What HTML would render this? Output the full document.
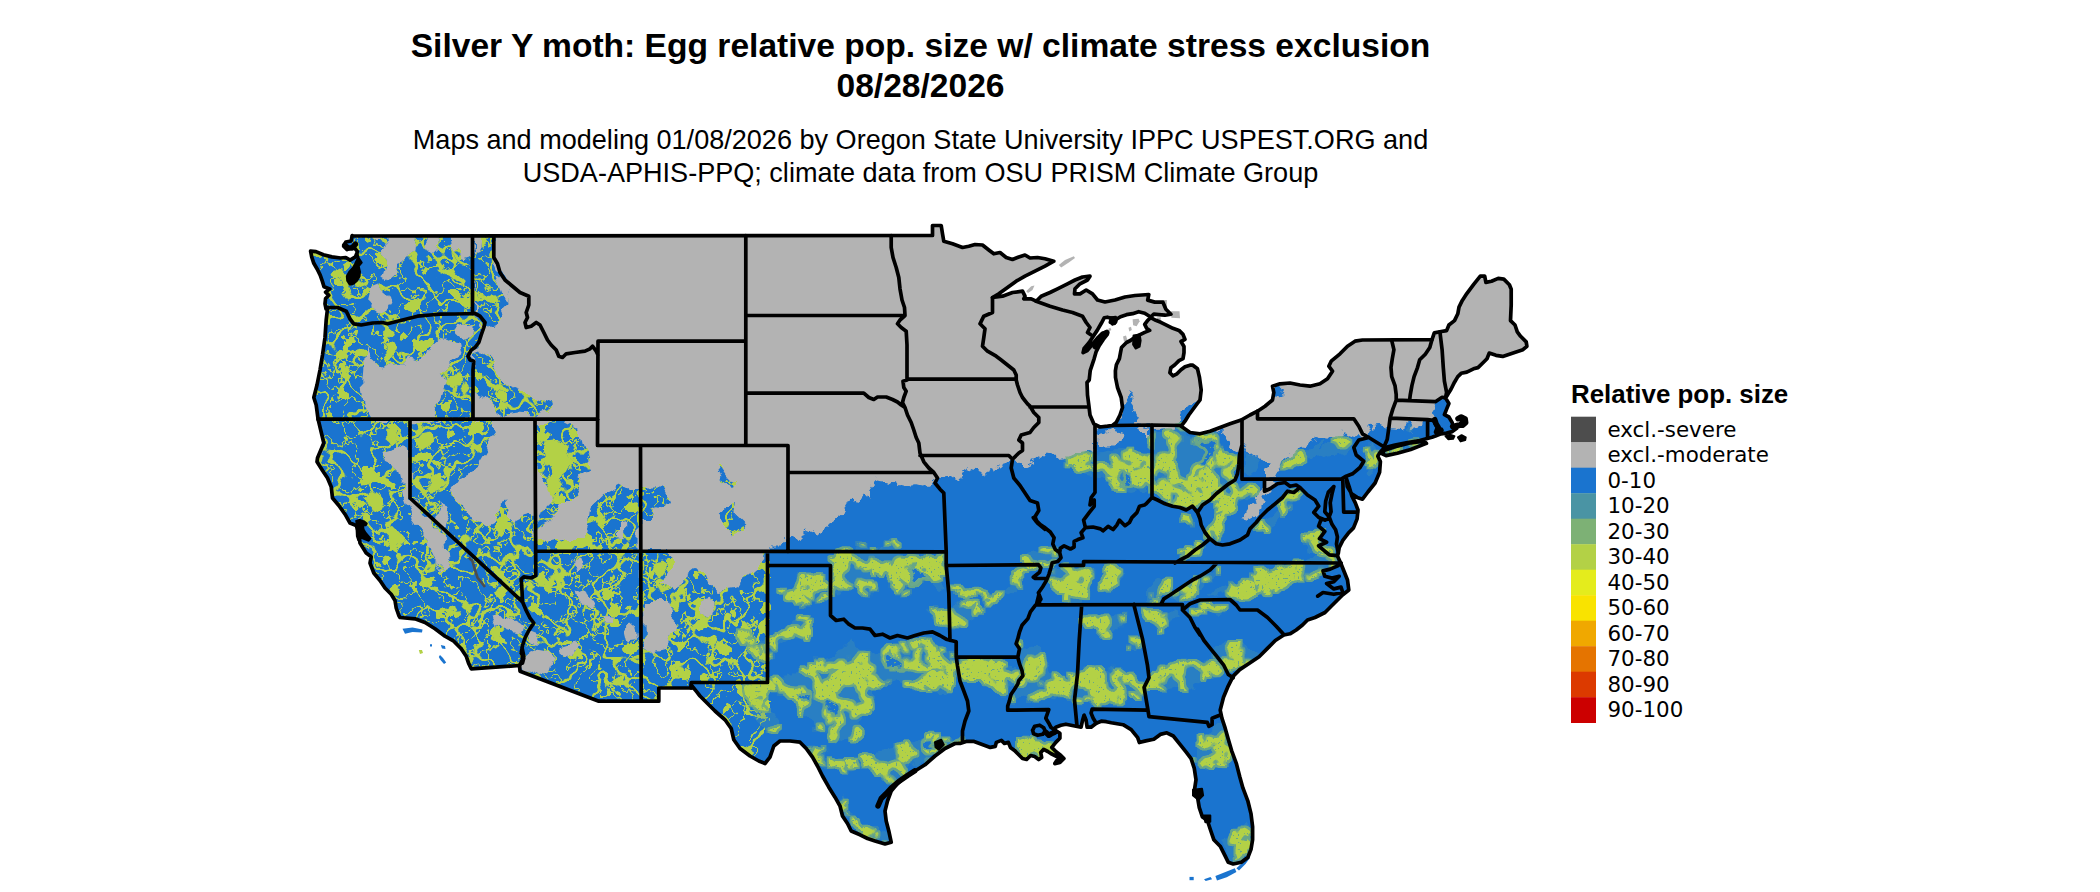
<!DOCTYPE html>
<html><head><meta charset="utf-8"><title>Silver Y moth</title>
<style>
html,body{margin:0;padding:0;background:#fff}
body{width:2100px;height:892px;overflow:hidden;position:relative;font-family:"Liberation Sans",sans-serif}
.t{position:absolute;left:0;width:1841px;text-align:center;white-space:nowrap;color:#000}
.t1{font-weight:bold;font-size:33.6px;line-height:40px}
.t2{font-size:27.07px;line-height:33px}
svg{position:absolute;left:0;top:0}
.ll{font-family:"DejaVu Sans",sans-serif;font-size:21.4px;fill:#000}
.lt{font-family:"Liberation Sans",sans-serif;font-weight:bold;font-size:25.9px;fill:#000}
</style></head><body>
<div class="t t1" style="top:26px">Silver Y moth: Egg relative pop. size w/ climate stress exclusion<br>08/28/2026</div>
<div class="t t2" style="top:123px">Maps and modeling 01/08/2026 by Oregon State University IPPC USPEST.ORG and<br>USDA-APHIS-PPQ; climate data from OSU PRISM Climate Group</div>
<svg width="2100" height="892" viewBox="0 0 2100 892">
<defs><clipPath id="us"><path d="M352 236 L932.5 235.5 L932.5 225.5 L941.2 225.5 L942.5 233.8 L943.8 241.2 L952.5 243.8 L962.5 247.5 L968.8 246.2 L975 244.5 L982.5 245 L988.8 250 L993.8 253.8 L1000 252.5 L1006.2 257.5 L1012.5 259.5 L1018.8 257 L1025 255 L1030 258 L1037.5 257.5 L1045 258.8 L1053.8 261.2 L1045 266.2 L1035 271.2 L1025 276.2 L1016.2 281.2 L1007.5 287.5 L998.8 293.8 L992.5 297.5 L1002.5 296.2 L1012.5 292.5 L1022.5 291.2 L1025 296.2 L1023.8 298.8 L1031.2 298.8 L1036.2 301.2 L1041.2 296.2 L1050 292.5 L1057.5 288.8 L1067.5 283.8 L1075 280 L1082.5 277 L1090 276.2 L1087.5 280 L1080 283.8 L1075 288.8 L1074.5 293.8 L1080 293.8 L1086.2 290 L1092.5 293.8 L1097.5 300 L1105 302 L1115 300 L1125 297 L1135 295.5 L1148.8 294.5 L1147.7 300.1 L1154.8 302.1 L1162.8 302.1 L1165.9 309.2 L1170.9 314.2 L1164.9 315.2 L1158.8 314.7 L1153.8 314.2 L1150.7 317 L1144.7 313.2 L1138.6 311.7 L1132.6 313.7 L1126.5 314.7 L1120.5 316.7 L1116.4 319.3 L1114.4 323.3 L1110.4 322.3 L1111.4 318.3 L1107.3 317.2 L1104.3 317.7 L1101.3 323.3 L1097.2 330.4 L1093.2 336.4 L1089.2 342.5 L1084.1 348.5 L1083.1 352.6 L1087.2 350.5 L1092.2 344.5 L1097.2 338.4 L1102.3 333.4 L1106.3 332.4 L1107.3 334.4 L1103.3 339.4 L1099.3 345.5 L1096.2 351.6 L1094.2 358.6 L1092.2 364.7 L1090.2 370.7 L1089.2 380 L1087 382.5 L1087.5 395 L1088.8 405 L1090 415 L1093.8 423.8 L1100 427 L1107.5 426.2 L1112.5 425.5 L1116.2 422.5 L1120 415 L1122.5 407.5 L1121.2 397.5 L1117.5 387.5 L1115.5 377.5 L1115.4 370.7 L1116.4 364.7 L1119.4 358.6 L1120.5 352.6 L1121.5 347.5 L1126.5 342.5 L1130.5 340.5 L1134.6 337.4 L1140.6 334.4 L1144.7 332.4 L1149.7 330.4 L1146.7 328.3 L1144.7 324.3 L1147.7 320.3 L1150.7 317.7 L1155.8 320.3 L1160.8 322.3 L1166.9 325.3 L1172.9 328.3 L1179 330.4 L1183 334.4 L1185 339.4 L1181 341.5 L1184 346.5 L1184 352.6 L1183 358.6 L1179 360.6 L1174.9 364.7 L1170.9 367.7 L1169.9 372.7 L1172.9 375.8 L1177 373.8 L1181 369.7 L1185 366.7 L1190 365.2 L1192.5 365 L1197.5 368.8 L1199.5 377.5 L1201.2 390 L1200 400 L1196.2 405 L1192.5 410 L1188.8 415 L1185 421.2 L1181.2 426.2 L1190 432.5 L1200 433.8 L1210 431.2 L1220 427.5 L1230 423.8 L1241.2 420 L1250 415 L1257.5 411.2 L1265 406.2 L1272.5 400 L1273.8 392.5 L1272.5 386.2 L1280 383.8 L1290 383 L1300 385 L1310 386.2 L1320 383.8 L1327.5 378.8 L1332.5 371.2 L1328.8 366.2 L1331.2 361.2 L1340 353.8 L1347.5 346.2 L1355 341.2 L1362.5 340 L1432 339.6 L1434.3 332.9 L1439.9 331.8 L1446.6 330.6 L1448.9 325 L1454.5 320.6 L1457.8 313.8 L1459 307.1 L1462.3 300.4 L1466.8 293.6 L1473.5 284.7 L1480.3 276.1 L1484.7 276.1 L1485.9 282.4 L1491.5 281.3 L1498.2 278.4 L1503.8 279.1 L1509.4 284.7 L1511.2 289.2 L1511.2 304.9 L1510.5 320.6 L1515 325 L1517.3 331.8 L1520.6 336.3 L1526.2 341.9 L1526.9 346.3 L1522.9 349.7 L1516.1 351.9 L1509.4 354.2 L1502.7 356.4 L1496 355.3 L1489.2 353.1 L1487 358.7 L1482.5 363.2 L1478 367.6 L1473.5 368.8 L1466.8 372.1 L1461.2 373.3 L1457.8 376.6 L1454.5 382.2 L1451.1 389 L1447.7 394.6 L1445.5 397.9 L1448.9 403.5 L1446.6 409.1 L1444.4 414.7 L1448.9 417 L1452.2 422.6 L1453.3 427.1 L1459 426.4 L1463.4 424.8 L1464.6 420.3 L1462.3 417 L1459.6 418.1 L1461.9 421 L1460.1 424.2 L1456.7 428.2 L1452.2 431.6 L1446.6 433.1 L1441 433.8 L1435.4 436 L1432 437.2 L1419.7 440.5 L1406.3 442.8 L1395 445 L1386.1 447.3 L1382.7 449.5 L1380 452.5 L1377.8 456.1 L1380.4 461.5 L1379.6 472.3 L1375.1 483 L1367.9 492 L1362.5 499.2 L1357.1 497.4 L1351.7 493.8 L1347.3 486.6 L1346.4 478.6 L1349.1 486.6 L1351.7 495.6 L1355.3 502.8 L1358 510 L1357.1 518.9 L1353.5 527.9 L1348.2 533.3 L1342.8 540.4 L1339.2 547.6 L1338.3 553 L1337.4 555.7 L1341 563.8 L1347.5 580 L1348.8 590 L1342.5 595 L1337.5 600 L1331.2 606.2 L1325 612.5 L1315 617.5 L1307.5 620 L1302.5 625 L1296.2 630 L1290 633.8 L1283.8 635 L1275.3 640.5 L1267.2 648.6 L1259.1 656.7 L1249.4 663.2 L1239.7 669.6 L1233.2 676.1 L1228.3 685.8 L1223.5 697.2 L1220.2 710.1 L1221.9 718.2 L1225.1 727.9 L1228.3 739.3 L1231.6 750.6 L1236.4 763.6 L1239.7 776.5 L1242.9 787.9 L1247.8 800.8 L1251 813.8 L1252.6 826.7 L1252.6 839.7 L1251 849.4 L1247.8 857.5 L1241.3 862.3 L1233.2 864 L1228.3 862.3 L1225.1 855.9 L1220.2 846.2 L1213.8 839.7 L1210.5 830 L1207.3 820.2 L1202.4 817 L1199.2 807.3 L1197.6 797.6 L1194.3 791.1 L1196 779.8 L1194.3 768.4 L1191.1 758.7 L1186.2 752.2 L1179.8 744.1 L1173.3 736 L1166.8 732.8 L1160.3 734.4 L1153.8 739.3 L1145.7 740.9 L1139.3 742.5 L1137.7 737.7 L1131.2 729.6 L1123.1 724.7 L1111.3 722.7 L1106.3 721.7 L1101.2 721.2 L1096.2 723.2 L1091.1 727.2 L1087.1 727.2 L1086.1 720.2 L1084.1 715.1 L1082.6 720.2 L1081.1 727.2 L1076 726.2 L1071 725.2 L1065.9 724.2 L1060.9 725.2 L1055.8 727.2 L1053.8 729.3 L1056.8 731.3 L1059.9 733.3 L1059.9 738.3 L1055.8 742.4 L1051.8 747.4 L1055.8 751.5 L1060.9 755.5 L1063.9 758.5 L1059.9 762.5 L1054.8 763.6 L1056.8 760.5 L1060.9 759.5 L1056.8 756.5 L1050.8 753.5 L1047.8 751.5 L1043.7 749.4 L1040.7 752.5 L1041.7 757.5 L1038.7 759.5 L1034.7 756.5 L1030.6 755.5 L1026.6 759.5 L1022.5 758.5 L1018.5 754.5 L1014.5 750.4 L1010.4 747.4 L1008.4 742.4 L1004.4 743.4 L1001.4 740.4 L996.3 742.4 L995.3 746.4 L990.3 747.4 L982.2 744.4 L974.1 741.4 L966.1 741.4 L960 743.4 L955 743.5 L945 748.5 L935 756 L925 764.8 L915 771 L905 777.2 L897.5 783.5 L891.2 791 L887.5 801 L885 811 L886.2 821 L888.8 831 L891.2 842.2 L885 844 L875 841 L867.5 838.5 L860 834.8 L851.2 831 L847.5 823.5 L842.5 816 L840 806 L835 797.2 L828.8 787.2 L822.5 776 L817.5 766 L812.5 757.2 L806.2 748.5 L800 742.2 L790 741 L780 741 L773.8 746 L770 757.2 L765 763.5 L758.8 761 L750 756 L740 748.5 L733.8 739.8 L731.2 728.5 L725 719.8 L715 711 L707.5 703.5 L700 696 L696.2 691.2 L691.2 685 L691.2 688 L658.8 688 L658.8 701.2 L641.2 701.2 L598.8 701.2 L520 671.2 L519.5 665.5 L471.2 668.8 L468.8 663.8 L466.2 656.2 L461.2 648.8 L453.8 641.2 L445 636.2 L435 628.8 L425 622.5 L415 618.8 L400 617.5 L398.8 615.5 L396.2 608 L395 600.5 L391.2 594.2 L385 588 L380 580.5 L373.8 573 L370 563 L371.2 556.8 L366.2 553 L360 543 L358.8 533 L356.2 525.5 L350 523 L345 514.2 L338.8 505.5 L332.5 498 L331.2 486.8 L327.5 478 L322.5 470.5 L317 461.8 L317.5 458 L323.8 443 L318 418.8 L316.2 405 L313.8 397.5 L317 385 L320 370 L322.5 355 L325 337.5 L326.2 320 L327.5 308.8 L326.1 309.1 L325 303.8 L325.6 298.5 L328.8 295.3 L325.6 292.1 L329.8 288.9 L324 286.8 L322.4 281.4 L320.2 275.1 L317 268.7 L313.8 263.3 L311.7 256.9 L310.6 251.1 L316 251.6 L323.4 254.8 L331.9 256.9 L340.5 258 L345.8 257.5 L350.1 260.1 L355.4 256.9 L357.5 251.6 L353.2 246.3 L346.9 249.5 L343.7 246.3 L345.8 242 L351.1 241 L352.2 235.6 Z M1383.8 450.6 L1397.3 446.1 L1410.7 442.8 L1424.2 441.2 L1426.4 443.4 L1410.7 449.5 L1397.3 453.3 L1386.1 455.6 L1382.7 454 Z"/></clipPath>

<filter id="fleckW" filterUnits="userSpaceOnUse" x="280" y="200" width="580" height="580" color-interpolation-filters="sRGB">
  <feTurbulence type="fractalNoise" baseFrequency="0.07" numOctaves="2" seed="11" result="dn"/>
  <feDisplacementMap in="SourceGraphic" in2="dn" scale="14" xChannelSelector="R" yChannelSelector="G" result="sg"/>
  <feColorMatrix in="sg" type="matrix" values="0 0 0 0 0  0 0 0 0 0  0 0 0 0 0  -4 0 4 0 -1" result="bm"/>
  <feTurbulence type="fractalNoise" baseFrequency="0.045" numOctaves="4" seed="7" result="n"/>
  <feColorMatrix in="n" type="matrix" values="0 0 0 0 0  0 0 0 0 0  0 0 0 0 0  80 0 0 0 -38" result="m1"/>
  <feColorMatrix in="n" type="matrix" values="0 0 0 0 0  0 0 0 0 0  0 0 0 0 0  80 0 0 0 -40.6" result="m2"/>
  <feComposite in="m1" in2="m2" operator="out" result="band1"/>
  <feTurbulence type="fractalNoise" baseFrequency="0.028" numOctaves="3" seed="31" result="nl"/>
  <feColorMatrix in="nl" type="matrix" values="0 0 0 0 0  0 0 0 0 0  0 0 0 0 0  0 80 0 0 -38.4" result="m3"/>
  <feColorMatrix in="nl" type="matrix" values="0 0 0 0 0  0 0 0 0 0  0 0 0 0 0  0 80 0 0 -42.4" result="m4"/>
  <feComposite in="m3" in2="m4" operator="out" result="band2"/>
  <feColorMatrix in="n" type="matrix" values="0 0 0 0 0  0 0 0 0 0  0 0 0 0 0  0 0 80 0 -53.5" result="blob"/>
  <feMerge result="mm"><feMergeNode in="band1"/><feMergeNode in="band2"/><feMergeNode in="blob"/></feMerge>
  <feFlood flood-color="#b3d146" result="f"/>
  <feComposite in="f" in2="mm" operator="in" result="gm"/>
  <feComposite in="gm" in2="bm" operator="in" result="g2"/>
  <feMerge><feMergeNode in="sg"/><feMergeNode in="g2"/></feMerge>
</filter>
<filter id="roughE" filterUnits="userSpaceOnUse" x="700" y="200" width="950" height="700" color-interpolation-filters="sRGB">
  <feTurbulence type="fractalNoise" baseFrequency="0.11" numOctaves="3" seed="3" result="n"/>
  <feDisplacementMap in="SourceGraphic" in2="n" scale="13" xChannelSelector="R" yChannelSelector="G"/>
</filter>
<filter id="rough" filterUnits="userSpaceOnUse" x="280" y="200" width="1300" height="700" color-interpolation-filters="sRGB">
  <feTurbulence type="fractalNoise" baseFrequency="0.06" numOctaves="3" seed="11" result="n"/>
  <feDisplacementMap in="SourceGraphic" in2="n" scale="18" xChannelSelector="R" yChannelSelector="G" result="d"/>
  <feTurbulence type="fractalNoise" baseFrequency="0.03" numOctaves="3" seed="23" result="n2"/>
  <feColorMatrix in="n2" type="matrix" values="0 0 0 0 0  0 0 0 0 0  0 0 0 0 0  40 0 0 0 -16.4" result="b1"/>
  <feColorMatrix in="n2" type="matrix" values="0 0 0 0 0  0 0 0 0 0  0 0 0 0 0  40 0 0 0 -22.4" result="b2"/>
  <feComposite in="b1" in2="b2" operator="out" result="rib1"/>
  <feColorMatrix in="n2" type="matrix" values="0 0 0 0 0  0 0 0 0 0  0 0 0 0 0  0 40 0 0 -24.4" result="blob"/>
  <feMerge result="rib"><feMergeNode in="rib1"/><feMergeNode in="blob"/></feMerge>
  <feTurbulence type="fractalNoise" baseFrequency="0.45" numOctaves="1" seed="5" result="n3"/>
  <feColorMatrix in="n3" type="matrix" values="0 0 0 0 0  0 0 0 0 0  0 0 0 0 0  40 0 0 0 -12" result="sp"/>
  <feComposite in="d" in2="rib" operator="in" result="g0"/>
  <feMorphology in="g0" operator="dilate" radius="2.3" result="dil"/>
  <feColorMatrix in="dil" type="matrix" values="0 0 0 0 0.44  0 0 0 0 0.67  0 0 0 0 0.50  0 0 0 0.9 0" result="halo"/>
  <feColorMatrix in="d" type="matrix" values="0 0 0 0 0.30  0 0 0 0 0.60  0 0 0 0 0.66  0 0 0 0.3 0" result="tl"/>
  <feComposite in="g0" in2="sp" operator="in" result="gl"/>
  <feMerge><feMergeNode in="tl"/><feMergeNode in="halo"/><feMergeNode in="gl"/></feMerge>
</filter>

</defs>
<path d="M352 236 L932.5 235.5 L932.5 225.5 L941.2 225.5 L942.5 233.8 L943.8 241.2 L952.5 243.8 L962.5 247.5 L968.8 246.2 L975 244.5 L982.5 245 L988.8 250 L993.8 253.8 L1000 252.5 L1006.2 257.5 L1012.5 259.5 L1018.8 257 L1025 255 L1030 258 L1037.5 257.5 L1045 258.8 L1053.8 261.2 L1045 266.2 L1035 271.2 L1025 276.2 L1016.2 281.2 L1007.5 287.5 L998.8 293.8 L992.5 297.5 L1002.5 296.2 L1012.5 292.5 L1022.5 291.2 L1025 296.2 L1023.8 298.8 L1031.2 298.8 L1036.2 301.2 L1041.2 296.2 L1050 292.5 L1057.5 288.8 L1067.5 283.8 L1075 280 L1082.5 277 L1090 276.2 L1087.5 280 L1080 283.8 L1075 288.8 L1074.5 293.8 L1080 293.8 L1086.2 290 L1092.5 293.8 L1097.5 300 L1105 302 L1115 300 L1125 297 L1135 295.5 L1148.8 294.5 L1147.7 300.1 L1154.8 302.1 L1162.8 302.1 L1165.9 309.2 L1170.9 314.2 L1164.9 315.2 L1158.8 314.7 L1153.8 314.2 L1150.7 317 L1144.7 313.2 L1138.6 311.7 L1132.6 313.7 L1126.5 314.7 L1120.5 316.7 L1116.4 319.3 L1114.4 323.3 L1110.4 322.3 L1111.4 318.3 L1107.3 317.2 L1104.3 317.7 L1101.3 323.3 L1097.2 330.4 L1093.2 336.4 L1089.2 342.5 L1084.1 348.5 L1083.1 352.6 L1087.2 350.5 L1092.2 344.5 L1097.2 338.4 L1102.3 333.4 L1106.3 332.4 L1107.3 334.4 L1103.3 339.4 L1099.3 345.5 L1096.2 351.6 L1094.2 358.6 L1092.2 364.7 L1090.2 370.7 L1089.2 380 L1087 382.5 L1087.5 395 L1088.8 405 L1090 415 L1093.8 423.8 L1100 427 L1107.5 426.2 L1112.5 425.5 L1116.2 422.5 L1120 415 L1122.5 407.5 L1121.2 397.5 L1117.5 387.5 L1115.5 377.5 L1115.4 370.7 L1116.4 364.7 L1119.4 358.6 L1120.5 352.6 L1121.5 347.5 L1126.5 342.5 L1130.5 340.5 L1134.6 337.4 L1140.6 334.4 L1144.7 332.4 L1149.7 330.4 L1146.7 328.3 L1144.7 324.3 L1147.7 320.3 L1150.7 317.7 L1155.8 320.3 L1160.8 322.3 L1166.9 325.3 L1172.9 328.3 L1179 330.4 L1183 334.4 L1185 339.4 L1181 341.5 L1184 346.5 L1184 352.6 L1183 358.6 L1179 360.6 L1174.9 364.7 L1170.9 367.7 L1169.9 372.7 L1172.9 375.8 L1177 373.8 L1181 369.7 L1185 366.7 L1190 365.2 L1192.5 365 L1197.5 368.8 L1199.5 377.5 L1201.2 390 L1200 400 L1196.2 405 L1192.5 410 L1188.8 415 L1185 421.2 L1181.2 426.2 L1190 432.5 L1200 433.8 L1210 431.2 L1220 427.5 L1230 423.8 L1241.2 420 L1250 415 L1257.5 411.2 L1265 406.2 L1272.5 400 L1273.8 392.5 L1272.5 386.2 L1280 383.8 L1290 383 L1300 385 L1310 386.2 L1320 383.8 L1327.5 378.8 L1332.5 371.2 L1328.8 366.2 L1331.2 361.2 L1340 353.8 L1347.5 346.2 L1355 341.2 L1362.5 340 L1432 339.6 L1434.3 332.9 L1439.9 331.8 L1446.6 330.6 L1448.9 325 L1454.5 320.6 L1457.8 313.8 L1459 307.1 L1462.3 300.4 L1466.8 293.6 L1473.5 284.7 L1480.3 276.1 L1484.7 276.1 L1485.9 282.4 L1491.5 281.3 L1498.2 278.4 L1503.8 279.1 L1509.4 284.7 L1511.2 289.2 L1511.2 304.9 L1510.5 320.6 L1515 325 L1517.3 331.8 L1520.6 336.3 L1526.2 341.9 L1526.9 346.3 L1522.9 349.7 L1516.1 351.9 L1509.4 354.2 L1502.7 356.4 L1496 355.3 L1489.2 353.1 L1487 358.7 L1482.5 363.2 L1478 367.6 L1473.5 368.8 L1466.8 372.1 L1461.2 373.3 L1457.8 376.6 L1454.5 382.2 L1451.1 389 L1447.7 394.6 L1445.5 397.9 L1448.9 403.5 L1446.6 409.1 L1444.4 414.7 L1448.9 417 L1452.2 422.6 L1453.3 427.1 L1459 426.4 L1463.4 424.8 L1464.6 420.3 L1462.3 417 L1459.6 418.1 L1461.9 421 L1460.1 424.2 L1456.7 428.2 L1452.2 431.6 L1446.6 433.1 L1441 433.8 L1435.4 436 L1432 437.2 L1419.7 440.5 L1406.3 442.8 L1395 445 L1386.1 447.3 L1382.7 449.5 L1380 452.5 L1377.8 456.1 L1380.4 461.5 L1379.6 472.3 L1375.1 483 L1367.9 492 L1362.5 499.2 L1357.1 497.4 L1351.7 493.8 L1347.3 486.6 L1346.4 478.6 L1349.1 486.6 L1351.7 495.6 L1355.3 502.8 L1358 510 L1357.1 518.9 L1353.5 527.9 L1348.2 533.3 L1342.8 540.4 L1339.2 547.6 L1338.3 553 L1337.4 555.7 L1341 563.8 L1347.5 580 L1348.8 590 L1342.5 595 L1337.5 600 L1331.2 606.2 L1325 612.5 L1315 617.5 L1307.5 620 L1302.5 625 L1296.2 630 L1290 633.8 L1283.8 635 L1275.3 640.5 L1267.2 648.6 L1259.1 656.7 L1249.4 663.2 L1239.7 669.6 L1233.2 676.1 L1228.3 685.8 L1223.5 697.2 L1220.2 710.1 L1221.9 718.2 L1225.1 727.9 L1228.3 739.3 L1231.6 750.6 L1236.4 763.6 L1239.7 776.5 L1242.9 787.9 L1247.8 800.8 L1251 813.8 L1252.6 826.7 L1252.6 839.7 L1251 849.4 L1247.8 857.5 L1241.3 862.3 L1233.2 864 L1228.3 862.3 L1225.1 855.9 L1220.2 846.2 L1213.8 839.7 L1210.5 830 L1207.3 820.2 L1202.4 817 L1199.2 807.3 L1197.6 797.6 L1194.3 791.1 L1196 779.8 L1194.3 768.4 L1191.1 758.7 L1186.2 752.2 L1179.8 744.1 L1173.3 736 L1166.8 732.8 L1160.3 734.4 L1153.8 739.3 L1145.7 740.9 L1139.3 742.5 L1137.7 737.7 L1131.2 729.6 L1123.1 724.7 L1111.3 722.7 L1106.3 721.7 L1101.2 721.2 L1096.2 723.2 L1091.1 727.2 L1087.1 727.2 L1086.1 720.2 L1084.1 715.1 L1082.6 720.2 L1081.1 727.2 L1076 726.2 L1071 725.2 L1065.9 724.2 L1060.9 725.2 L1055.8 727.2 L1053.8 729.3 L1056.8 731.3 L1059.9 733.3 L1059.9 738.3 L1055.8 742.4 L1051.8 747.4 L1055.8 751.5 L1060.9 755.5 L1063.9 758.5 L1059.9 762.5 L1054.8 763.6 L1056.8 760.5 L1060.9 759.5 L1056.8 756.5 L1050.8 753.5 L1047.8 751.5 L1043.7 749.4 L1040.7 752.5 L1041.7 757.5 L1038.7 759.5 L1034.7 756.5 L1030.6 755.5 L1026.6 759.5 L1022.5 758.5 L1018.5 754.5 L1014.5 750.4 L1010.4 747.4 L1008.4 742.4 L1004.4 743.4 L1001.4 740.4 L996.3 742.4 L995.3 746.4 L990.3 747.4 L982.2 744.4 L974.1 741.4 L966.1 741.4 L960 743.4 L955 743.5 L945 748.5 L935 756 L925 764.8 L915 771 L905 777.2 L897.5 783.5 L891.2 791 L887.5 801 L885 811 L886.2 821 L888.8 831 L891.2 842.2 L885 844 L875 841 L867.5 838.5 L860 834.8 L851.2 831 L847.5 823.5 L842.5 816 L840 806 L835 797.2 L828.8 787.2 L822.5 776 L817.5 766 L812.5 757.2 L806.2 748.5 L800 742.2 L790 741 L780 741 L773.8 746 L770 757.2 L765 763.5 L758.8 761 L750 756 L740 748.5 L733.8 739.8 L731.2 728.5 L725 719.8 L715 711 L707.5 703.5 L700 696 L696.2 691.2 L691.2 685 L691.2 688 L658.8 688 L658.8 701.2 L641.2 701.2 L598.8 701.2 L520 671.2 L519.5 665.5 L471.2 668.8 L468.8 663.8 L466.2 656.2 L461.2 648.8 L453.8 641.2 L445 636.2 L435 628.8 L425 622.5 L415 618.8 L400 617.5 L398.8 615.5 L396.2 608 L395 600.5 L391.2 594.2 L385 588 L380 580.5 L373.8 573 L370 563 L371.2 556.8 L366.2 553 L360 543 L358.8 533 L356.2 525.5 L350 523 L345 514.2 L338.8 505.5 L332.5 498 L331.2 486.8 L327.5 478 L322.5 470.5 L317 461.8 L317.5 458 L323.8 443 L318 418.8 L316.2 405 L313.8 397.5 L317 385 L320 370 L322.5 355 L325 337.5 L326.2 320 L327.5 308.8 L326.1 309.1 L325 303.8 L325.6 298.5 L328.8 295.3 L325.6 292.1 L329.8 288.9 L324 286.8 L322.4 281.4 L320.2 275.1 L317 268.7 L313.8 263.3 L311.7 256.9 L310.6 251.1 L316 251.6 L323.4 254.8 L331.9 256.9 L340.5 258 L345.8 257.5 L350.1 260.1 L355.4 256.9 L357.5 251.6 L353.2 246.3 L346.9 249.5 L343.7 246.3 L345.8 242 L351.1 241 L352.2 235.6 Z M1383.8 450.6 L1397.3 446.1 L1410.7 442.8 L1424.2 441.2 L1426.4 443.4 L1410.7 449.5 L1397.3 453.3 L1386.1 455.6 L1382.7 454 Z" fill="#b3b3b3"/>
<g clip-path="url(#us)">
<g filter="url(#fleckW)">
<path d="M307.5 235 L473 235 L473 313.5 L485 322.5 L480 337.5 L470 355 L473 370 L473 420 L315 420 L310 395 L322.5 320 L322.5 295 L307.5 250 Z" fill="#1a74cf" />
<path d="M386.2 235 L417 235 L415.5 249.5 L410 252 L406.2 260 L398.8 263 L396.2 273.8 L387.5 281.2 L382.5 278.8 L386.2 267.5 L382.5 257.5 L387.5 247.5 Z" fill="#b3b3b3" />
<path d="M371.2 288 L380 284.5 L387.5 291.2 L390.5 302.5 L385 310.5 L375 312 L367 305 Z" fill="#b3b3b3" />
<path d="M424.5 235 L440 235 L438.8 247.5 L432.5 253.8 L426.2 247.5 Z" fill="#b3b3b3" />
<path d="M450 235 L473 235 L473 255 L465 257.5 L460 250 L452.5 252.5 Z" fill="#b3b3b3" />
<path d="M365.5 345 L371.2 360 L382.5 370 L400 363.8 L407.5 356.2 L417.5 360 L435 345 L445 336.2 L460 345 L462.5 355 L452.5 362.5 L443.8 371.2 L450 380 L441.2 392.5 L437 405 L430 420 L372.5 420 L363.8 405 L361.2 385 L362.5 365 Z" fill="#b3b3b3" />
<path d="M453.8 321.2 L465 318.8 L473.8 325 L472.5 337.5 L463.8 340 L456.2 333.8 Z" fill="#b3b3b3" />
<path d="M473 235 L492.5 235 L493.8 257.5 L498.8 270 L507.5 286.2 L510 300 L502.5 315 L492.5 330 L485 325 L475 313.5 Z" fill="#1a74cf" />
<path d="M475 235 L482.5 235 L481.2 255 L475 257.5 Z" fill="#b3b3b3" />
<path d="M492.5 272.5 L507.5 286.2 L510 300 L500 292.5 Z" fill="#b3b3b3" />
<path d="M473 350 L480 347.5 L490 360 L495 370 L500 380 L512.5 387.5 L525 392.5 L537.5 398.8 L550 403.8 L547.5 410 L537.5 413.8 L520 412.5 L507.5 413.8 L500 416.2 L495 406.2 L485 397.5 L475 392.5 L473 392.5 Z" fill="#1a74cf" />
<path d="M315 420 L411.2 420 L411.2 497.5 L522.5 601.2 L535 620 L525 643 L450 643 L395 620 L325 520 Z" fill="#1a74cf" />
<path d="M382.5 451.2 L400 446.2 L410 452.5 L410 483.8 L400 482.5 L396.2 467.5 L385 462.5 Z" fill="#b3b3b3" />
<path d="M400 468.8 L411.2 470 L417.5 502.5 L430 520 L445 537.5 L447.5 560 L442.5 572.5 L435 560 L425 537.5 L412.5 520 L405 500 Z" fill="#b3b3b3" />
<path d="M485 592.5 L497.5 595 L507.5 610 L500 620 L490 610 Z" fill="#b3b3b3" />
<path d="M525 625 L535 627.5 L532.5 643 L522.5 643 Z" fill="#b3b3b3" />
<path d="M411.2 421.2 L490 421.2 L492.5 435 L487.5 450 L480 462.5 L472.5 472.5 L460 477.5 L452.5 487.5 L455 502.5 L465 515 L475 520 L485 525 L495 520 L500 505 L507.5 502.5 L510 520 L520 515 L530 512.5 L535 525 L535 575 L522.5 577.5 L521.2 601.2 L411.2 497.5 Z" fill="#1a74cf" />
<path d="M440 502.5 L450 520 L445 535 L436.2 522.5 Z" fill="#b3b3b3" />
<path d="M536.5 425 L552.5 422.5 L565 422.5 L580 430 L582.5 445 L590 467.5 L582.5 477.5 L577.5 490 L570 502.5 L560 505 L552.5 520 L542.5 525 L536.5 535 L536.5 515 L547.5 507.5 L552.5 490 L542.5 477.5 L536.5 457.5 Z" fill="#1a74cf" />
<path d="M592.5 505 L605 492.5 L620 485 L630 490 L639.5 490 L639.5 550 L536.5 550 L540 540 L555 537.5 L570 542.5 L585 537.5 L590 525 Z" fill="#1a74cf" />
<path d="M620 525 L626.2 523.8 L626.2 537.5 L620 536.2 Z" fill="#b3b3b3" />
<path d="M639.5 487.5 L662.5 487.5 L670 502.5 L665 510 L655 507.5 L650 520 L639.5 520 Z" fill="#1a74cf" />
<path d="M718.8 465 L727.5 477.5 L735 478.8 L732.5 485 L725 482.5 L720 473.8 Z" fill="#1a74cf" />
<path d="M718.8 511.2 L727.5 507.5 L733.8 503.8 L732.5 515 L745 527.5 L737.5 532.5 L730 536.2 L725 525 Z" fill="#1a74cf" />
<path d="M639.5 550 L670 550 L672.5 565 L665 580 L655 585 L639.5 582.5 Z" fill="#1a74cf" />
<path d="M536.5 550 L639.5 550 L639.5 582.5 L660 582.5 L675 590 L682.5 580 L695 570 L705 572.5 L710 585 L720 590 L735 587.5 L745 580 L757.5 570 L766.2 560 L766.2 550 L840 550 L840 643 L520 643 L520 570 Z" fill="#1a74cf" />
<path d="M480 600 L800 600 L800 775 L480 775 Z" fill="#1a74cf" />
<path d="M370 590 L500 590 L500 700 L370 700 Z" fill="#1a74cf" />
<path d="M577.5 592.5 L586.2 588.8 L592.5 597.5 L588.8 606.2 L580 603.8 Z" fill="#b3b3b3" />
<path d="M570 560 L578.8 557.5 L582.5 567.5 L576.2 572.5 Z" fill="#b3b3b3" />
<path d="M700 601.2 L710 598.8 L713.8 612.5 L706.2 618.8 L700 612.5 Z" fill="#b3b3b3" />
<path d="M605 615 L613 615.5 L612.5 623 L605.5 622.5 Z" fill="#b3b3b3" />
<path d="M521.2 657.5 L530 650 L545 652.5 L555 657.5 L550 672.5 L540 677.5 L525 670 Z" fill="#b3b3b3" />
<path d="M492.5 615 L510 617.5 L522.5 625 L520 635 L507.5 632.5 L497.5 625 Z" fill="#b3b3b3" />
<path d="M527.5 627.5 L540 632.5 L537.5 645 L530 642.5 Z" fill="#b3b3b3" />
<path d="M623.8 626.2 L636.2 625 L638 641.2 L627.5 642.5 Z" fill="#b3b3b3" />
<path d="M605 616.2 L611.2 616.2 L611.2 622.5 L605 622.5 Z" fill="#b3b3b3" />
<path d="M562.5 646.2 L575 642.5 L581.2 650 L572.5 656.2 L563.8 653.8 Z" fill="#b3b3b3" />
<path d="M643.8 600 L670 600 L672.5 615 L680 622.5 L677.5 632.5 L667.5 637.5 L665 650 L655 652.5 L645 645 Z" fill="#b3b3b3" />
<path d="M702.5 600 L712.5 602.5 L712.5 615 L703.8 615 Z" fill="#b3b3b3" />
<path d="M436.4 269 L440.9 267.8 L450.8 271.4 L461.6 275.7 L466.6 280.8 L466.1 287 L461.6 282.9 L450.8 278.1 L440.9 273.9 Z" fill="#b3d146" />
<path d="M333.7 268.2 L344.5 270.9 L349.9 280.8 L348.1 291.6 L350.9 297 L346.3 298.8 L340.9 291.6 L343.7 282.6 L340.9 275.4 L334.6 272.8 Z" fill="#b3d146" />
<path d="M450.8 248.6 L459.8 257.6 L467 261.2 L467.8 264.8 L459.8 262.1 L449.8 252.2 Z" fill="#b3d146" />
<path d="M384.4 343.4 L393.4 340.7 L396.2 350.6 L391.6 361.4 L386.2 363.2 L384.4 354.2 Z" fill="#b3d146" />
<path d="M483.8 374 L491.9 379.4 L502.7 385.7 L513.5 390.2 L511.7 393.8 L499.1 390.2 L488.3 383 L482.9 378.5 Z" fill="#b3d146" />
<path d="M478.7 292.3 L493.1 294.1 L500.3 301.3 L494.9 304.9 L484.1 299.5 L478.7 297.7 Z" fill="#b3d146" />
<path d="M447.6 376.5 L458.4 372.9 L462 381.9 L454.8 387.3 L448.5 383.7 Z" fill="#b3d146" />
<path d="M363.8 494.9 L372.8 487.7 L380 493.1 L383.6 505.7 L380 512.9 L371 509.3 L364.7 503.9 Z" fill="#b3d146" />
<path d="M379.8 530.6 L388.8 527.9 L397.8 532.4 L401.4 543.2 L397.8 551.3 L392.4 546.8 L387 537.8 Z" fill="#b3d146" />
<path d="M385.2 430 L397.8 428.2 L399.6 440.8 L392.4 444.4 L385.2 439 Z" fill="#b3d146" />
<path d="M450.1 611.1 L460.9 610.3 L462.7 616.5 L453.7 618.3 Z" fill="#b3d146" />
<path d="M430 479.5 L439 474.1 L444.4 481.3 L442.6 492.1 L433.6 493.9 L429.1 486.7 Z" fill="#b3d146" />
<path d="M416 436.8 L432.2 433.2 L435.8 442.2 L425 449.4 L416 445.8 Z" fill="#b3d146" />
<path d="M544.2 442.5 L556.8 440.7 L567.6 447.9 L569.4 462.3 L562.2 474.9 L556.8 492.9 L549.6 498.3 L546 487.5 L551.4 474.9 L546 460.5 Z" fill="#b3d146" />
<path d="M648.8 562.2 L665 559.4 L666.8 567.6 L659.6 576.6 L652.4 573 Z" fill="#b3d146" />
<path d="M742.2 621.7 L749.4 628.9 L754.8 645.1 L758.4 650.5 L774.6 637.9 L789 630.7 L789 637.9 L774.6 645.1 L760.2 654.1 L753 652.3 L745.8 634.3 L738.6 628.9 Z" fill="#b3d146" />
<path d="M749 688.1 L758 684.5 L772.4 680.9 L790.4 677.3 L790.4 684.5 L776 688.1 L763.4 695.3 L758 704.3 L750.8 700.7 L749 693.5 Z" fill="#b3d146" />
</g>
<g filter="url(#roughE)">
<path d="M768 900 L768 545.5 L780 545.5 L788 538 L792.5 536.8 L800 539.2 L805 530.5 L817.5 535.5 L825 528 L830 523 L840 515.5 L845 508 L850 501.8 L862.5 496.8 L870 500.5 L870 488 L875 480.5 L885 481.8 L897.5 485.5 L907.5 488 L915 484.2 L925 485.5 L935 480.5 L941.2 478 L950 475.5 L960 479.2 L965 468 L972.5 470.5 L985 473 L995 468 L1002.5 463 L1010 460.5 L1015 460 L1025 466.2 L1035 461.2 L1045 455 L1052.5 453.8 L1060 458.8 L1075 457.5 L1085 455 L1095 452.5 L1095 427.5 L1117.5 425 L1117.5 417.5 L1125 420 L1135 412.5 L1140 415 L1132.5 426.2 L1150 426.2 L1152.5 430 L1175 428.8 L1177.5 422.5 L1182.5 412.5 L1192.5 402.5 L1200 402.5 L1197.5 407.5 L1200 433.8 L1220 428.8 L1225 437.5 L1232.5 447.5 L1240 452.5 L1243.8 443.8 L1250 452.5 L1260 460 L1271.2 463.8 L1265 470 L1265 478 L1271.2 478 L1277.5 465 L1287.5 457.5 L1300 450 L1310 442.5 L1320 438.8 L1330 440.5 L1339 439.4 L1345.7 433.8 L1354.7 437.2 L1363.6 437.2 L1372.6 426 L1380.5 424.8 L1388.3 428.2 L1404 429.3 L1405.1 421.5 L1411.9 420.3 L1409.6 430.4 L1419.7 427.1 L1427.6 419.7 L1433.2 420.3 L1432 412.5 L1435.4 403.5 L1442.1 397.9 L1451.1 396.8 L1464.6 403.5 L1487 417 L1487 529.1 L1620 560 L1620 900 Z" fill="#1a74cf" />
<path d="M1265 480 L1272.5 480 L1275 485 L1265 497.5 L1260 507.5 L1252.5 517.5 L1245 521.2 L1243.8 516.2 L1250 507.5 L1257.5 497.5 L1263.8 487.5 Z" fill="#b3b3b3" />
<path d="M1096.2 432.5 L1110 430 L1122.5 433.8 L1120 440 L1115 447.5 L1105 447.5 L1096.2 446.2 Z" fill="#b3b3b3" />
<path d="M1140 427.5 L1150 427.5 L1150 435 L1142.5 435 Z" fill="#b3b3b3" />
<path d="M1273.8 385 L1282.5 388.8 L1281.2 395 L1273.8 397.5 Z" fill="#1a74cf" />
<path d="M1122.5 412.5 L1127.5 400 L1130 390 L1132.5 400 L1130 412.5 L1137.5 415 L1135 425 L1117.5 425 Z" fill="#1a74cf" />
</g>
<g filter="url(#rough)">
<path d="M740 622.5 L747.5 627.5 L752.5 642.5 L757.5 652.5 L762.5 647.5 L770 640 L785 632.5 L800 625 L807.5 620 L807.5 630 L795 635 L782.5 642.5 L772.5 650 L765 657.5 L755 660 L747.5 647.5 L740 635 Z" fill="#b3d146" />
<path d="M745 687.5 L760 682.5 L775 677.5 L790 672.5 L805 670 L815 665 L825 657.5 L837.5 655 L845 645 L857.5 642.5 L860 652.5 L872.5 655 L880 647.5 L895 645 L910 647.5 L925 642.5 L937.5 650 L950 652.5 L955 657.5 L955 685 L947.5 692.5 L935 690 L922.5 692.5 L912.5 685 L900 680 L890 677.5 L880 685 L870 692.5 L870 702.5 L862.5 712.5 L865 720 L857.5 725 L862.5 735 L857.5 742.5 L847.5 740 L840 745 L832.5 740 L825 730 L815 727.5 L805 720 L797.5 712.5 L792.5 702.5 L785 695 L772.5 692.5 L762.5 697.5 L762.5 707.5 L770 715 L777.5 720 L775 730 L765 727.5 L757.5 717.5 L752.5 705 L747.5 697.5 Z" fill="#b3d146" />
<path d="M807.5 745 L820 750 L835 760 L850 760 L865 752.5 L880 750 L895 747.5 L910 742.5 L920 735 L930 732.5 L940 737.5 L950 737.5 L957.5 735 L960 740 L950 745 L940 747.5 L935 755 L925 760 L915 767.5 L905 775 L895 780 L885 777.5 L875 770 L865 765 L850 767.5 L835 767.5 L820 760 L810 752.5 Z" fill="#b3d146" />
<path d="M842.5 795 L847.5 805 L852.5 817.5 L860 827.5 L867.5 820 L877.5 822.5 L887.5 835 L890 843 L875 840 L860 835 L850 825 L845 812.5 L841.2 802.5 Z" fill="#b3d146" />
<path d="M960 660 L975 657.5 L990 662.5 L1005 657.5 L1015 662.5 L1015 670 L1005 677.5 L1000 687.5 L992.5 682.5 L980 675 L965 672.5 L960 670 Z" fill="#b3d146" />
<path d="M1020 650 L1030 645 L1040 652.5 L1047.5 665 L1052.5 677.5 L1060 685 L1060 700 L1047.5 695 L1035 690 L1022.5 695 L1012.5 702.5 L1010 695 L1017.5 682.5 L1022.5 670 L1018.8 660 Z" fill="#b3d146" />
<path d="M1022.5 745 L1032.5 737.5 L1045 740 L1055 745 L1060 755 L1052.5 760 L1040 760 L1027.5 760 L1022.5 755 Z" fill="#b3d146" />
<path d="M935 620 L950 620 L965 622.5 L970 627.5 L960 630 L947.5 627.5 Z" fill="#b3d146" />
<path d="M830 557.5 L842.5 552.5 L860 545 L875 546.2 L895 545 L900 552.5 L915 553.8 L930 557.5 L942.5 555 L943.8 570 L945 587.5 L935 585 L927.5 575 L920 570 L910 572.5 L912.5 585 L905 592.5 L895 587.5 L887.5 577.5 L877.5 572.5 L870 577.5 L875 592.5 L865 595 L855 585 L845 587.5 L835 592.5 L832.5 580 L835 567.5 Z" fill="#b3d146" />
<path d="M946.2 587.5 L960 590 L975 592.5 L990 595 L1002.5 590 L1012.5 580 L1022.5 570 L1022.5 560 L1035 555 L1047.5 550 L1057.5 547.5 L1060 557.5 L1052.5 565 L1040 565 L1030 570 L1020 582.5 L1010 592.5 L997.5 597.5 L980 597.5 L965 595 L950 592.5 Z" fill="#b3d146" />
<path d="M930 612.5 L940 607.5 L950 605 L962.5 602.5 L975 605 L985 607.5 L980 615 L972.5 620 L967.5 630 L960 625 L952.5 622.5 L942.5 622.5 L932.5 620 Z" fill="#b3d146" />
<path d="M780 592.5 L792.5 582.5 L802.5 577.5 L817.5 577.5 L828.8 582.5 L828.8 595 L820 600 L810 607.5 L800 605 L790 597.5 Z" fill="#b3d146" />
<path d="M770 640 L780 632.5 L792.5 625 L800 615 L807.5 620 L807.5 630 L797.5 637.5 L785 645 L775 652.5 L765 657.5 L760 652.5 L760 642.5 Z" fill="#b3d146" />
<path d="M815 660 L830 655 L845 660 L860 655 L875 650 L890 645 L905 647.5 L920 642.5 L935 647.5 L950 652.5 L955 660 L955 682.5 L947.5 692.5 L935 690 L922.5 692.5 L910 685 L900 675 L890 680 L880 690 L870 695 L860 692.5 L845 680 L830 675 L815 672.5 Z" fill="#b3d146" />
<path d="M957.5 660 L972.5 660 L990 665 L1005 662.5 L1015 667.5 L1017.5 680 L1007.5 682.5 L1000 692.5 L992.5 685 L980 680 L967.5 680 L958.8 675 Z" fill="#b3d146" />
<path d="M1020 650 L1030 645 L1040 652.5 L1042.5 665 L1050 675 L1060 680 L1070 675 L1075 667.5 L1075 695 L1060 695 L1045 692.5 L1035 700 L1025 695 L1015 700 L1012.5 692.5 L1020 680 L1022.5 665 Z" fill="#b3d146" />
<path d="M1020 555 L1032.5 552.5 L1045 547.5 L1055 550 L1052.5 560 L1040 565 L1027.5 570 L1020 572.5 Z" fill="#b3d146" />
<path d="M1055 567.5 L1070 565 L1085 566.2 L1092.5 572.5 L1090 585 L1087.5 597.5 L1077.5 602.5 L1065 600 L1057.5 592.5 L1052.5 580 Z" fill="#b3d146" />
<path d="M1100 572.5 L1112.5 567.5 L1122.5 572.5 L1120 582.5 L1110 590 L1102.5 585 Z" fill="#b3d146" />
<path d="M1145 592.5 L1155 582.5 L1162.5 577.5 L1170 580 L1167.5 590 L1160 597.5 L1150 602.5 L1145 600 Z" fill="#b3d146" />
<path d="M1210 595 L1220 590 L1232.5 585 L1245 577.5 L1260 572.5 L1275 570 L1290 565 L1305 562.5 L1320 557.5 L1332.5 555 L1335 565 L1320 572.5 L1305 577.5 L1290 582.5 L1275 590 L1260 595 L1245 597.5 L1230 595 L1220 600 Z" fill="#b3d146" />
<path d="M1307.5 547.5 L1320 545 L1332.5 550 L1327.5 557.5 L1315 555 Z" fill="#b3d146" />
<path d="M1082.5 620 L1092.5 615 L1102.5 617.5 L1112.5 615 L1120 612.5 L1125 617.5 L1120 627.5 L1110 632.5 L1097.5 632.5 L1087.5 630 Z" fill="#b3d146" />
<path d="M1140 610 L1150 607.5 L1160 612.5 L1175 612.5 L1180 620 L1170 625 L1160 630 L1152.5 625 L1145 620 Z" fill="#b3d146" />
<path d="M1130 640 L1135 635 L1140 640 L1135 650 L1128.8 650 Z" fill="#b3d146" />
<path d="M1192.5 607.5 L1205 602.5 L1220 605 L1227.5 610 L1220 615 L1207.5 612.5 L1195 612.5 Z" fill="#b3d146" />
<path d="M1207.5 647.5 L1217.5 645 L1227.5 640 L1240 640 L1245 647.5 L1255 650 L1260 657.5 L1250 662.5 L1240 667.5 L1230 670 L1222.5 660 L1212.5 652.5 Z" fill="#b3d146" />
<path d="M1020 645 L1030 647.5 L1037.5 657.5 L1045 670 L1055 680 L1065 680 L1070 670 L1077.5 675 L1090 667.5 L1102.5 670 L1120 667.5 L1130 675 L1142.5 680 L1150 672.5 L1160 670 L1175 665 L1190 660 L1205 657.5 L1217.5 660 L1220 667.5 L1210 675 L1200 682.5 L1190 690 L1175 687.5 L1160 690 L1150 690 L1140 695 L1130 695 L1120 702.5 L1105 705 L1090 702.5 L1080 700 L1070 695 L1057.5 700 L1045 695 L1035 700 L1027.5 695 L1020 690 Z" fill="#b3d146" />
<path d="M1200 740 L1210 730 L1220 725 L1225 735 L1227.5 747.5 L1230 763 L1195 763 L1195 750 Z" fill="#b3d146" />
<path d="M1020 740 L1030 735 L1042.5 737.5 L1050 745 L1045 755 L1035 760 L1020 763 Z" fill="#b3d146" />
<path d="M1170 597.5 L1185 587.5 L1200 577.5 L1215 567.5 L1217.5 572.5 L1202.5 585 L1190 595 L1175 602.5 Z" fill="#b3d146" />
<path d="M1062.5 460 L1075 456.2 L1093.8 453.8 L1093.8 475 L1082.5 473.8 L1072.5 467.5 L1063.8 465 Z" fill="#b3d146" />
<path d="M1096.2 452.5 L1107.5 450 L1120 448.8 L1135 451.2 L1150 455 L1150 490 L1140 487.5 L1130 490 L1117.5 487.5 L1110 480 L1100 477.5 L1096.2 472.5 Z" fill="#b3d146" />
<path d="M1152.5 432.5 L1170 430 L1185 428.8 L1195 436.2 L1215 435 L1220 442.5 L1225 455 L1235 462.5 L1235 475 L1225 485 L1215 495 L1205 502.5 L1190 505 L1175 502.5 L1162.5 497.5 L1152.5 490 Z" fill="#b3d146" />
<path d="M1215 497.5 L1225 487.5 L1237.5 482.5 L1250 485 L1252.5 495 L1240 505 L1230 515 L1222.5 530 L1215 540 L1207.5 535 L1215 520 L1217.5 507.5 Z" fill="#b3d146" />
<path d="M1243.8 455 L1255 457.5 L1260 465 L1255 472.5 L1243.8 470 Z" fill="#b3d146" />
<path d="M1182.5 512.5 L1192.5 515 L1191.2 523.8 L1183.8 522.5 Z" fill="#b3d146" />
<path d="M1180 552.5 L1200 542.5 L1210 545 L1195 555 L1182.5 558.8 Z" fill="#b3d146" />
<path d="M1260 527.5 L1275 510 L1290 492.5 L1300 485 L1302.5 490 L1292.5 502.5 L1280 517.5 L1267.5 532.5 Z" fill="#b3d146" />
<path d="M1282.5 462.5 L1300 452.5 L1320 442.5 L1320 452.5 L1305 460 L1290 467.5 L1282.5 470 Z" fill="#b3d146" />
<path d="M1305 535 L1320 530 L1320 550 L1307.5 552.5 Z" fill="#b3d146" />
<path d="M1310 452.5 L1325 446.2 L1340 441.2 L1352.5 442.5 L1350 450 L1337.5 453.8 L1325 457 L1312.5 459.5 Z" fill="#b3d146" />
<path d="M1365 447.5 L1375 442.5 L1380 452.5 L1377.5 465 L1372.5 475 L1367.5 470 L1370 457.5 Z" fill="#b3d146" />
<path d="M1386.1 451.7 L1397.3 448.4 L1410.7 445 L1419.7 443.9 L1410.7 447.9 L1397.3 451.7 Z" fill="#b3d146" />
<path d="M1404 422.6 L1409.6 421.5 L1408.5 431.6 L1404 431.6 Z" fill="#b3d146" />
<path d="M1217 839.7 L1226.7 836.4 L1239.7 826.7 L1249.4 820.2 L1251 839.7 L1246.2 855.9 L1233.2 862.3 L1226.7 852.6 Z" fill="#b3d146" />
<path d="M1197.6 742.5 L1210.5 729.6 L1220.2 723.1 L1226.7 729.6 L1230 752.2 L1226.7 765.2 L1213.8 761.9 L1207.3 771.7 L1200.8 765.2 Z" fill="#b3d146" />
<path d="M1197.5 442.5 L1212.5 440 L1217.5 452.5 L1210 463.8 L1197.5 462.5 L1192.5 452.5 Z" fill="#1a74cf" stroke="#6aa88c" stroke-width="3"/>
<path d="M1120 475 L1130 476.2 L1130 485 L1121.2 485 Z" fill="#1a74cf" stroke="#6aa88c" stroke-width="3"/>
<path d="M887.5 656.2 L900 655 L903.8 663.8 L895 668.8 L887.5 665 Z" fill="#1a74cf" stroke="#6aa88c" stroke-width="3"/>
<path d="M800 690 L815 691.2 L815 700 L802.5 700 Z" fill="#1a74cf" stroke="#6aa88c" stroke-width="3"/>
<path d="M822.5 702.5 L840 703.8 L840 715 L825 713.8 Z" fill="#1a74cf" stroke="#6aa88c" stroke-width="3"/>
<path d="M922.5 738.8 L933.8 737.5 L935 748.8 L925 750 Z" fill="#1a74cf" stroke="#6aa88c" stroke-width="3"/>
<path d="M883.8 656.2 L900 655 L902.5 667.5 L887.5 670 Z" fill="#1a74cf" stroke="#6aa88c" stroke-width="3"/>
<path d="M910 570 L925 572.5 L927.5 582.5 L915 582.5 Z" fill="#1a74cf" stroke="#6aa88c" stroke-width="3"/>
</g>

</g>
<path d="M402.5 628.8 L412.5 627.5 L422.5 629.5 L422 632.5 L412.5 632 L405 633.8 Z" fill="#1a74cf" />
<path d="M440 655 L443 658 L446.2 662.5 L444 664 L440.5 660 L438.8 657 Z" fill="#1a74cf" />
<path d="M418.8 650 L422 650 L423 653 L420 654 Z" fill="#b3d146" />
<path d="M430 644.2 L432 644.2 L432 646.5 L430 646.5 Z" fill="#1a74cf" />
<path d="M440.8 645 L445 646 L445.5 649 L442 648.5 Z" fill="#1a74cf" />
<path d="M1058.8 265 L1065 260 L1073.8 256.2 L1075 258 L1068.8 262.5 L1061.2 267.5 Z" fill="#b3b3b3" />
<path d="M1026.2 291.2 L1031.2 286.2 L1034.5 285.5 L1032.5 290 L1028 293 Z" fill="#b3b3b3" />
<path d="M1132.6 319.3 L1138.6 318.8 L1139.6 321.3 L1136.6 326.3 L1133.1 325.3 Z" fill="#b3b3b3" />
<path d="M1128.5 327.8 L1131 326.8 L1131.8 329.9 L1129.3 331.6 Z" fill="#b3b3b3" />
<path d="M1123 336.4 L1126 335.4 L1127.5 340.5 L1124 341.7 Z" fill="#b3b3b3" />
<path d="M1156.8 317.4 L1160.8 317.2 L1160.8 320.1 L1157 320.1 Z" fill="#b3b3b3" />
<path d="M1170.9 311.2 L1179.5 311.2 L1180 318.3 L1171.4 317.7 Z" fill="#b3b3b3" />
<path d="M1162.8 300.1 L1166.9 300.1 L1166.9 308.2 L1163.8 307.2 Z" fill="#b3b3b3" />
<path d="M1108.3 328.8 L1110.4 327.8 L1111.4 329.9 L1108.8 331.4 Z" fill="#b3b3b3" />
<path d="M1189.5 876.9 L1193.7 876.9 L1193.7 880.2 L1189.5 880.2 Z" fill="#1a74cf" />
<path d="M1204 879.2 L1210.5 876.9 L1212.1 879.2 L1205.7 881.1 Z" fill="#1a74cf" />
<path d="M1215.4 876 L1226.7 871.4 L1234.8 868.2 L1236.4 872.1 L1226.7 877.2 L1217 880.5 Z" fill="#1a74cf" />
<path d="M1236.4 868.2 L1244.5 860.7 L1248.7 855.9 L1250 857.8 L1245.5 864 L1239 870.4 Z" fill="#1a74cf" />

<path d="M352 236 L932.5 235.5 L932.5 225.5 L941.2 225.5 L942.5 233.8 L943.8 241.2 L952.5 243.8 L962.5 247.5 L968.8 246.2 L975 244.5 L982.5 245 L988.8 250 L993.8 253.8 L1000 252.5 L1006.2 257.5 L1012.5 259.5 L1018.8 257 L1025 255 L1030 258 L1037.5 257.5 L1045 258.8 L1053.8 261.2 L1045 266.2 L1035 271.2 L1025 276.2 L1016.2 281.2 L1007.5 287.5 L998.8 293.8 L992.5 297.5 L1002.5 296.2 L1012.5 292.5 L1022.5 291.2 L1025 296.2 L1023.8 298.8 L1031.2 298.8 L1036.2 301.2 L1041.2 296.2 L1050 292.5 L1057.5 288.8 L1067.5 283.8 L1075 280 L1082.5 277 L1090 276.2 L1087.5 280 L1080 283.8 L1075 288.8 L1074.5 293.8 L1080 293.8 L1086.2 290 L1092.5 293.8 L1097.5 300 L1105 302 L1115 300 L1125 297 L1135 295.5 L1148.8 294.5 L1147.7 300.1 L1154.8 302.1 L1162.8 302.1 L1165.9 309.2 L1170.9 314.2 L1164.9 315.2 L1158.8 314.7 L1153.8 314.2 L1150.7 317 L1144.7 313.2 L1138.6 311.7 L1132.6 313.7 L1126.5 314.7 L1120.5 316.7 L1116.4 319.3 L1114.4 323.3 L1110.4 322.3 L1111.4 318.3 L1107.3 317.2 L1104.3 317.7 L1101.3 323.3 L1097.2 330.4 L1093.2 336.4 L1089.2 342.5 L1084.1 348.5 L1083.1 352.6 L1087.2 350.5 L1092.2 344.5 L1097.2 338.4 L1102.3 333.4 L1106.3 332.4 L1107.3 334.4 L1103.3 339.4 L1099.3 345.5 L1096.2 351.6 L1094.2 358.6 L1092.2 364.7 L1090.2 370.7 L1089.2 380 L1087 382.5 L1087.5 395 L1088.8 405 L1090 415 L1093.8 423.8 L1100 427 L1107.5 426.2 L1112.5 425.5 L1116.2 422.5 L1120 415 L1122.5 407.5 L1121.2 397.5 L1117.5 387.5 L1115.5 377.5 L1115.4 370.7 L1116.4 364.7 L1119.4 358.6 L1120.5 352.6 L1121.5 347.5 L1126.5 342.5 L1130.5 340.5 L1134.6 337.4 L1140.6 334.4 L1144.7 332.4 L1149.7 330.4 L1146.7 328.3 L1144.7 324.3 L1147.7 320.3 L1150.7 317.7 L1155.8 320.3 L1160.8 322.3 L1166.9 325.3 L1172.9 328.3 L1179 330.4 L1183 334.4 L1185 339.4 L1181 341.5 L1184 346.5 L1184 352.6 L1183 358.6 L1179 360.6 L1174.9 364.7 L1170.9 367.7 L1169.9 372.7 L1172.9 375.8 L1177 373.8 L1181 369.7 L1185 366.7 L1190 365.2 L1192.5 365 L1197.5 368.8 L1199.5 377.5 L1201.2 390 L1200 400 L1196.2 405 L1192.5 410 L1188.8 415 L1185 421.2 L1181.2 426.2 L1190 432.5 L1200 433.8 L1210 431.2 L1220 427.5 L1230 423.8 L1241.2 420 L1250 415 L1257.5 411.2 L1265 406.2 L1272.5 400 L1273.8 392.5 L1272.5 386.2 L1280 383.8 L1290 383 L1300 385 L1310 386.2 L1320 383.8 L1327.5 378.8 L1332.5 371.2 L1328.8 366.2 L1331.2 361.2 L1340 353.8 L1347.5 346.2 L1355 341.2 L1362.5 340 L1432 339.6 L1434.3 332.9 L1439.9 331.8 L1446.6 330.6 L1448.9 325 L1454.5 320.6 L1457.8 313.8 L1459 307.1 L1462.3 300.4 L1466.8 293.6 L1473.5 284.7 L1480.3 276.1 L1484.7 276.1 L1485.9 282.4 L1491.5 281.3 L1498.2 278.4 L1503.8 279.1 L1509.4 284.7 L1511.2 289.2 L1511.2 304.9 L1510.5 320.6 L1515 325 L1517.3 331.8 L1520.6 336.3 L1526.2 341.9 L1526.9 346.3 L1522.9 349.7 L1516.1 351.9 L1509.4 354.2 L1502.7 356.4 L1496 355.3 L1489.2 353.1 L1487 358.7 L1482.5 363.2 L1478 367.6 L1473.5 368.8 L1466.8 372.1 L1461.2 373.3 L1457.8 376.6 L1454.5 382.2 L1451.1 389 L1447.7 394.6 L1445.5 397.9 L1448.9 403.5 L1446.6 409.1 L1444.4 414.7 L1448.9 417 L1452.2 422.6 L1453.3 427.1 L1459 426.4 L1463.4 424.8 L1464.6 420.3 L1462.3 417 L1459.6 418.1 L1461.9 421 L1460.1 424.2 L1456.7 428.2 L1452.2 431.6 L1446.6 433.1 L1441 433.8 L1435.4 436 L1432 437.2 L1419.7 440.5 L1406.3 442.8 L1395 445 L1386.1 447.3 L1382.7 449.5 L1380 452.5 L1377.8 456.1 L1380.4 461.5 L1379.6 472.3 L1375.1 483 L1367.9 492 L1362.5 499.2 L1357.1 497.4 L1351.7 493.8 L1347.3 486.6 L1346.4 478.6 L1349.1 486.6 L1351.7 495.6 L1355.3 502.8 L1358 510 L1357.1 518.9 L1353.5 527.9 L1348.2 533.3 L1342.8 540.4 L1339.2 547.6 L1338.3 553 L1337.4 555.7 L1341 563.8 L1347.5 580 L1348.8 590 L1342.5 595 L1337.5 600 L1331.2 606.2 L1325 612.5 L1315 617.5 L1307.5 620 L1302.5 625 L1296.2 630 L1290 633.8 L1283.8 635 L1275.3 640.5 L1267.2 648.6 L1259.1 656.7 L1249.4 663.2 L1239.7 669.6 L1233.2 676.1 L1228.3 685.8 L1223.5 697.2 L1220.2 710.1 L1221.9 718.2 L1225.1 727.9 L1228.3 739.3 L1231.6 750.6 L1236.4 763.6 L1239.7 776.5 L1242.9 787.9 L1247.8 800.8 L1251 813.8 L1252.6 826.7 L1252.6 839.7 L1251 849.4 L1247.8 857.5 L1241.3 862.3 L1233.2 864 L1228.3 862.3 L1225.1 855.9 L1220.2 846.2 L1213.8 839.7 L1210.5 830 L1207.3 820.2 L1202.4 817 L1199.2 807.3 L1197.6 797.6 L1194.3 791.1 L1196 779.8 L1194.3 768.4 L1191.1 758.7 L1186.2 752.2 L1179.8 744.1 L1173.3 736 L1166.8 732.8 L1160.3 734.4 L1153.8 739.3 L1145.7 740.9 L1139.3 742.5 L1137.7 737.7 L1131.2 729.6 L1123.1 724.7 L1111.3 722.7 L1106.3 721.7 L1101.2 721.2 L1096.2 723.2 L1091.1 727.2 L1087.1 727.2 L1086.1 720.2 L1084.1 715.1 L1082.6 720.2 L1081.1 727.2 L1076 726.2 L1071 725.2 L1065.9 724.2 L1060.9 725.2 L1055.8 727.2 L1053.8 729.3 L1056.8 731.3 L1059.9 733.3 L1059.9 738.3 L1055.8 742.4 L1051.8 747.4 L1055.8 751.5 L1060.9 755.5 L1063.9 758.5 L1059.9 762.5 L1054.8 763.6 L1056.8 760.5 L1060.9 759.5 L1056.8 756.5 L1050.8 753.5 L1047.8 751.5 L1043.7 749.4 L1040.7 752.5 L1041.7 757.5 L1038.7 759.5 L1034.7 756.5 L1030.6 755.5 L1026.6 759.5 L1022.5 758.5 L1018.5 754.5 L1014.5 750.4 L1010.4 747.4 L1008.4 742.4 L1004.4 743.4 L1001.4 740.4 L996.3 742.4 L995.3 746.4 L990.3 747.4 L982.2 744.4 L974.1 741.4 L966.1 741.4 L960 743.4 L955 743.5 L945 748.5 L935 756 L925 764.8 L915 771 L905 777.2 L897.5 783.5 L891.2 791 L887.5 801 L885 811 L886.2 821 L888.8 831 L891.2 842.2 L885 844 L875 841 L867.5 838.5 L860 834.8 L851.2 831 L847.5 823.5 L842.5 816 L840 806 L835 797.2 L828.8 787.2 L822.5 776 L817.5 766 L812.5 757.2 L806.2 748.5 L800 742.2 L790 741 L780 741 L773.8 746 L770 757.2 L765 763.5 L758.8 761 L750 756 L740 748.5 L733.8 739.8 L731.2 728.5 L725 719.8 L715 711 L707.5 703.5 L700 696 L696.2 691.2 L691.2 685 L691.2 688 L658.8 688 L658.8 701.2 L641.2 701.2 L598.8 701.2 L520 671.2 L519.5 665.5 L471.2 668.8 L468.8 663.8 L466.2 656.2 L461.2 648.8 L453.8 641.2 L445 636.2 L435 628.8 L425 622.5 L415 618.8 L400 617.5 L398.8 615.5 L396.2 608 L395 600.5 L391.2 594.2 L385 588 L380 580.5 L373.8 573 L370 563 L371.2 556.8 L366.2 553 L360 543 L358.8 533 L356.2 525.5 L350 523 L345 514.2 L338.8 505.5 L332.5 498 L331.2 486.8 L327.5 478 L322.5 470.5 L317 461.8 L317.5 458 L323.8 443 L318 418.8 L316.2 405 L313.8 397.5 L317 385 L320 370 L322.5 355 L325 337.5 L326.2 320 L327.5 308.8 L326.1 309.1 L325 303.8 L325.6 298.5 L328.8 295.3 L325.6 292.1 L329.8 288.9 L324 286.8 L322.4 281.4 L320.2 275.1 L317 268.7 L313.8 263.3 L311.7 256.9 L310.6 251.1 L316 251.6 L323.4 254.8 L331.9 256.9 L340.5 258 L345.8 257.5 L350.1 260.1 L355.4 256.9 L357.5 251.6 L353.2 246.3 L346.9 249.5 L343.7 246.3 L345.8 242 L351.1 241 L352.2 235.6 Z M1383.8 450.6 L1397.3 446.1 L1410.7 442.8 L1424.2 441.2 L1426.4 443.4 L1410.7 449.5 L1397.3 453.3 L1386.1 455.6 L1382.7 454 Z" fill="none" stroke="#000" stroke-width="3.7" stroke-linejoin="round"/>
<path d="M472.5 236 L472.5 313.5 M326.2 307.5 L337.5 307.5 L346.2 311.2 L350 318.8 L353.8 323.8 L361.2 325 L372.5 323 L382.5 322.5 L387.5 323.8 L397.5 321.2 L407.5 318.8 L417.5 316.2 L430 315 L440 314.2 L455 314 L475 313.5 M475 313.5 L480 316.2 L485 322.5 L483.8 327.5 L481.2 335 L478.8 342.5 L475 347.5 L471.2 350 L468 356.2 L470 360 L473.8 361.2 L473 370 L473 419.2 M318 419.2 L598 419.2 M493.8 236 L493.8 257.5 L497.5 263.8 L500 272.5 L505 280 L512.5 286.2 L520 292.5 L528.8 296.2 L528.8 305 L526.2 312.5 L527.5 317.5 L525 322.5 L526.2 327.5 L531.2 326.2 L536.2 322.5 L540 325 L543.8 332.5 L547.5 340 L551.2 345 L556.2 350 L558.8 356.2 L562.5 357.5 L566.2 353.8 L575 352.5 L585 351.2 L590 348.8 L592.5 346.2 L596.2 351.2 L598 355 M598 341.2 L597.5 445.5 M598 341.2 L745.8 341.2 M410 419.2 L410 498 L522.5 601.8 M535 419.2 L535.8 575.5 L531.2 578 L523.8 576.8 L521.2 579.2 L522 590.5 L522.5 601.8 M522.5 601.8 L526.2 610.5 L530 618 L533.8 623 L528.8 630.5 L525 638 L522.5 645.5 L521.2 653 L523.8 658 L522.5 663 L522 647.5 L523.8 656.2 L521.2 662.5 L519.5 665.5 M535.8 551 L943.8 551.8 M597.5 445.5 L788 445.5 M640.5 445.5 L641.2 701.2 M745.8 235.5 L745.8 443 L745.8 445.5 M788 445.5 L788 551.8 M745.8 315.5 L902.5 315.5 M745.8 393.2 L863.8 393.2 L868.8 397.5 L873.8 399.5 L877.5 397 L886.2 397 L892.5 399.5 L897.5 402 L901.2 405 L905 407.5 M891.2 235.5 L891.2 247.5 L893 257.5 L896.2 267.5 L898.8 277.5 L900 288.8 L902 300 L904.5 307.5 L905 315.5 L900 320 L897.5 323.8 L901.2 327.5 L906.2 331.2 L907 345 L907 380 L903 381.2 L903.8 387.5 L906.2 391.2 L903.8 397.5 L902.5 402.5 L905 407.5 M907 379.2 L1015.5 379.2 M905 407.5 L907.5 415 L911.2 422.5 L913.8 430 L916.2 437.5 L918.8 443 L920 453 L923.8 461.8 L928.8 468 L933.8 472.5 L937.5 478 L935 483 L940 489.2 L943.8 493 L946.2 551 M992.5 297.5 L992.5 312.5 L983.8 316.2 L980 323.8 L985 328.8 L983.8 337.5 L982.5 346.2 L987.5 351.2 L996.2 356.2 L1001.2 360 L1007.5 365 L1013.8 370 L1016.2 375 L1016.2 380 L1017.5 385 L1020 392.5 L1022.5 397.5 L1027.5 403.8 L1030 406.2 L1033.8 412.5 L1038.8 417.5 L1038.8 422.5 L1033.8 427.5 L1030 432.5 L1021.2 435 L1018.8 440 L1022.5 443 L1022.5 450.5 L1018.8 453 L1012.5 459.2 L1011.2 468 L1013.8 478 L1020 485.5 L1025 493 L1030 500.5 L1037.5 503 L1038.8 510.5 L1035 516.8 L1037.5 523 L1045 529.2 L1033.3 517.6 L1036.5 522 L1044 527 L1050.3 532 L1054.1 537.7 L1052.8 544 L1055.3 549.6 L1059.7 552.7 L1061 557.8 L1057.8 561.5 L1052.2 562.8 L1050.9 567.8 L1049 574.1 L1046.5 580.4 L1042.7 586.7 L1038.4 592.9 L1040.9 599.2 L1036.5 604.2 L1038.8 595 L1039.7 601.8 L1035.5 605.1 L1030.4 611.8 L1027.9 618.6 L1022 625.3 L1019.5 632 L1017.8 638.7 L1016.1 643.8 L1019.5 648.8 L1017.8 657.2 L1019.5 663.9 L1022 670.7 L1022.9 675.7 L1018.7 680.8 L1017.8 684.1 L1014.5 689.2 L1011.1 694.2 L1009.4 700.9 L1007.7 706 L1007.7 710.2 L1048.8 709.6 L1045.8 718.2 L1048.8 723.2 L1050.8 727.2 L1053.8 729.3 M1036.2 301.2 L1050 306.2 L1062.5 310 L1072.5 312.5 L1082.5 316.2 L1086.2 322.5 L1090 327.5 L1087.5 332.5 L1091.2 335 M1030 407 L1088 407 M788 472.5 L933.8 472.5 M920 455.5 L1008.8 455.5 L1012.5 459.2 M767.5 551.8 L767.5 565.5 L830.5 565.5 L830.5 615.5 L836.2 620.5 L843.8 619.2 L848.8 624.2 L855 628 L862.5 628 L870 629.2 L875 635.5 L882.5 634.2 L890 638 L897.5 635.5 L907.5 638 L915 635.5 L923.8 633 L932.5 631.8 L940 635.5 L946.2 639.2 L956.2 641.8 L956.2 656.8 M767.5 565.5 L767.5 682.5 L691.2 682.5 L691.2 688 M946.2 551 L946.2 565.5 L948.8 593 L950 640.5 M946.2 565.5 L1038.4 564.7 L1040.9 567.8 L1039.6 572.2 L1033.3 577.2 L1035.2 578.5 L1046.5 578.5 M956.2 656.8 L1017.3 657.2 M956.2 656.8 L957.5 666 L960 681 L963.8 691 L967.5 701 L968.8 711 L965 721 L962.5 731 L962.5 741 M1095 426.2 L1095 492.5 L1091.2 497.5 L1090 505 L1094.2 500 L1094.2 506.3 L1089.2 512.6 L1083.6 520.1 L1085.4 527.6 M1152 425 L1152 497.5 M1112.5 425.5 L1151.2 425 L1181.2 425.5 M1242 445 L1239.5 455 L1238.8 465 L1237.5 473.8 L1235 480 L1228.8 483.8 L1222.5 488.8 L1216.2 493.8 L1210 500 L1202.5 505 L1197.5 512.5 L1192.5 506.2 L1186.2 510 L1180 507.5 L1172.5 506.2 L1165 503.8 L1157.5 500 L1152 497.5 L1146.2 503.8 L1144.5 505 L1139.5 506.3 L1136.9 512.6 L1131.9 517.6 L1129.4 522.6 L1125 525.7 L1119.4 520.1 L1116.8 525.1 L1113.1 529.5 L1108.1 526.4 L1103 530.8 L1100.5 528.9 L1093 527 L1085.4 527.6 L1081.1 532.7 L1082.9 537.7 L1077.9 539.6 L1074.1 541.4 L1074.1 547.1 L1070.4 549 L1064.1 545.8 L1060.3 548.4 L1059.7 552.7 M1197.5 512.5 L1200 518.8 L1201.2 525 L1205 532.5 L1210 538.8 L1202.5 545 L1195 550 L1187.5 556.2 L1180 560 L1175 563 M1242 420 L1242 478.8 M1242 479.2 L1341.2 479.2 L1346.2 476.2 L1352.5 473.8 M1264.5 479.2 L1264.5 491.2 L1270 488.8 L1277.5 483.8 L1285 482.5 L1290 486.2 L1296.2 485 L1300 487.5 L1307.5 495 L1315 500 L1318.8 506.2 L1313.8 512.5 L1318.8 517.5 L1325 520 M1300 487.5 L1293.8 492.5 L1287.5 491.2 L1282.5 497.5 L1275 503.8 L1267.5 510 L1261.2 516.2 L1256.2 522.5 L1250 528.8 L1247.5 535 L1240 540 L1230 543.8 L1222.5 545 L1216.2 543.8 L1210 538.8 M1060.3 565.3 L1083.6 565.3 L1083.6 561.5 L1341.2 563 M1216.2 563.8 L1210 570 L1200 576.2 L1192.5 580 L1185 585 L1177.5 590 L1170 595 L1163.8 598.8 L1161.2 603.8 M1036.3 604.8 L1182.5 604.5 L1182.5 610 M1182.5 610 L1190 603.8 L1200 600 L1230 599.5 L1236.2 605 L1240 610 L1257.5 610 L1267.5 617.5 L1276.2 626.2 L1283.8 634.5 M1182.5 610 L1190 617.5 L1195 627.5 L1200 635 L1197.6 629.1 L1204 640.5 L1210.5 648.6 L1217 656.7 L1223.5 664.8 L1228.3 674.5 L1233.2 677.7 M1081.7 604.8 L1079.2 640.4 L1077.5 674 L1074.5 700 L1077 726.2 M1133.8 604.5 L1142.5 638.9 L1147.4 664.8 L1149 677.7 L1144.1 687.4 L1147.4 706.9 L1149 716.6 L1207.3 722.4 L1208.9 726.3 L1212.1 724.7 L1212.1 718.2 L1220.2 715 M1096.2 723.2 L1093.2 718.2 L1091.1 713.1 L1092.2 709.1 L1147.4 710.1 M1342.8 479.8 L1343.7 512.1 L1357.5 512.1 M1257.5 411.2 L1257.5 418.8 L1353.8 418.8 L1358.8 426.2 L1362.5 433.8 L1368.8 437.5 L1385 447.5 M1368.8 437.5 L1358.8 440 L1353.8 447.5 L1356.2 455 L1363.8 461.2 L1360 467.5 L1352.5 473.8 M1391.7 340.3 L1393.9 349.7 L1392.3 358.7 L1391 367.6 L1391.7 376.6 L1395 385.6 L1396.2 394.6 L1396.2 400.2 L1392.8 409.1 L1390.1 418.1 L1388.8 428.2 L1387.2 439.4 L1383.8 447.3 M1432 339.6 L1429.8 347.5 L1425.3 354.2 L1419.7 359.8 L1417.5 367.6 L1414.1 376.6 L1411.9 385.6 L1410.3 394.6 L1409.6 400.2 M1439.9 331.8 L1442.1 349.7 L1443.3 367.6 L1444.4 381.1 L1446.6 392.3 L1445.5 397.9 M1396.2 400.2 L1435.4 401.7 L1442.1 397.3 L1445.5 397.9 M1390.1 418.1 L1427.6 419.7 L1433.2 420.3 L1436.5 426 L1439.9 429.3 M1427.6 419.7 L1427.6 437.2 M1321.3 518.9 L1318.6 526.1 L1324.8 531.5 L1319.5 538.7 L1326.6 542.2 L1318.6 545.8 L1324.8 551.2 L1329.3 554.8 L1337.4 555.7 M1333.8 486.6 L1328.4 492 L1325.7 501 L1324.8 511.7 L1329.3 517.1 L1332 524.3 L1335.6 529.7 L1337.4 536.9 L1336.5 544 L1338.3 553 M1333.8 486.6 L1332 493.8 L1330.2 502.8 L1331.1 511.7 L1328.4 518.9 L1324.8 520 M1338.3 565.6 L1330.2 569.1 L1323 570.9 L1324.8 576.3 L1332 578.1 L1339.2 576.3 L1333.8 581.7 L1326.6 583.5 L1333.8 588.9 L1341 587.1 L1342.8 592.5 L1333.8 594.3 L1323 592.5 L1317.7 596.1 M1032.6 730.3 L1034.7 726.2 L1039.7 725.2 L1043.7 727.7 L1045.2 731.3 L1042.7 734.3 L1037.7 735.3 L1033.6 733.8 L1032.6 730.3" fill="none" stroke="#000" stroke-width="3.7" stroke-linejoin="round" stroke-linecap="round"/>
<path d="M344.7 245.2 L347.9 247.9 L352.2 247.9 L355.4 244.2 M1045.8 732.3 L1048.8 735.3 L1051.3 733.8 L1054.8 732.3 M1452.6 426.6 L1457.1 425.3 L1462.5 425.3 L1465.7 422.6 L1465.2 419 L1461.2 417 L1458 418.7 M1434.7 419.5 L1436.1 423.9 L1438.3 427.5 L1436.5 432 L1441 430.2 M878 806 L881.2 798.5 L886.2 793.5 L891.2 788 L898.8 781.5 L907.5 775.5 L914.5 771 M1095.2 346.5 L1099.3 339.4 L1103.3 334.4 L1106.8 332.4" fill="none" stroke="#000" stroke-width="5.5" stroke-linejoin="round" stroke-linecap="round"/>
<path d="M356.2 520.9 L359.6 519.9 L364.3 521.5 L366.7 523.6 L365.7 525.2 L363 525.6 L363.6 529.6 L365.7 533 L370.4 538.4 L368.7 540.7 L365 539.4 L361 537.7 L358.3 540.4 L356.9 536.3 L356.6 529.6 L356.9 525.6 Z M1458 437.4 L1461.6 435.2 L1465.7 437.4 L1465.2 440.1 L1460.7 441.4 Z M1445.5 436.1 L1450 434.7 L1454.4 436.1 L1453.1 438.7 L1448.2 439.2 Z M357 251.7 L358.7 258.1 L361.7 262.6 L358.7 266.2 L360 271.7 L359.6 276.2 L357 280.7 L353.6 283.8 L349.8 284.8 L347.2 280.7 L346.8 276.2 L349.3 271.7 L352.8 268 L355.3 263.5 L357.4 258.9 Z M1133.6 335.4 L1139.6 334.4 L1140.6 340.5 L1139.6 346.5 L1135.6 348.5 L1133.1 344.5 Z M1110.4 317.2 L1115.9 316.7 L1116.4 322.3 L1112.4 324.8 L1109.9 322.3 Z M1193 789.8 L1202 788.7 L1203.1 795.4 L1198.7 799.9 L1193 795.4 Z M1203.6 815.6 L1210.3 815.6 L1210.3 821.8 L1205.4 822.3 Z M935 742.2 L941.2 739.8 L943.8 744.8 L938.8 749.8 L935.5 747.2 Z" fill="#000" stroke="#000" stroke-width="2" stroke-linejoin="round"/>
<path d="M468.8 557.5 L472.5 561.2 L475 570 L477.5 577.5 L482.5 583.8 L485 587" fill="none" stroke="#4d4d4d" stroke-width="2.6"/>

<text x="1571" y="403" class="lt">Relative pop. size</text>
<rect x="1571" y="416.7" width="25" height="25.8" fill="#4d4d4d"/><text x="1607.5" y="436.9" class="ll">excl.-severe</text>
<rect x="1571" y="442.2" width="25" height="25.8" fill="#b3b3b3"/><text x="1607.5" y="462.4" class="ll">excl.-moderate</text>
<rect x="1571" y="467.7" width="25" height="25.8" fill="#1a74cf"/><text x="1607.5" y="487.9" class="ll">0-10</text>
<rect x="1571" y="493.2" width="25" height="25.8" fill="#4a94a4"/><text x="1607.5" y="513.4" class="ll">10-20</text>
<rect x="1571" y="518.7" width="25" height="25.8" fill="#7db175"/><text x="1607.5" y="538.9" class="ll">20-30</text>
<rect x="1571" y="544.2" width="25" height="25.8" fill="#b3d146"/><text x="1607.5" y="564.4" class="ll">30-40</text>
<rect x="1571" y="569.7" width="25" height="25.8" fill="#e4ec1c"/><text x="1607.5" y="589.9" class="ll">40-50</text>
<rect x="1571" y="595.2" width="25" height="25.8" fill="#f9e300"/><text x="1607.5" y="615.4" class="ll">50-60</text>
<rect x="1571" y="620.7" width="25" height="25.8" fill="#f0a800"/><text x="1607.5" y="640.9" class="ll">60-70</text>
<rect x="1571" y="646.2" width="25" height="25.8" fill="#e57400"/><text x="1607.5" y="666.4" class="ll">70-80</text>
<rect x="1571" y="671.7" width="25" height="25.8" fill="#dc3a00"/><text x="1607.5" y="691.9" class="ll">80-90</text>
<rect x="1571" y="697.2" width="25" height="25.8" fill="#cc0000"/><text x="1607.5" y="717.4" class="ll">90-100</text>

</svg>
</body></html>
